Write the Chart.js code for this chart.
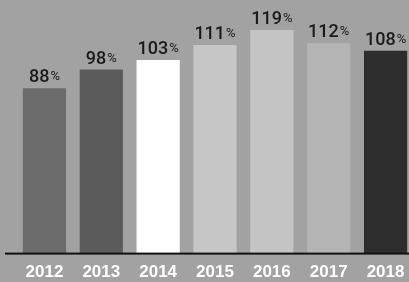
<!DOCTYPE html>
<html>
<head>
<meta charset="utf-8">
<script src="https://cdn.jsdelivr.net/npm/chart.js@4"></script>
<style>
  html, body { margin: 0; padding: 0; background: #a2a2a2; overflow: hidden; }
  #wrap { position: relative; width: 414px; height: 292px; }
</style>
</head>
<body>
<div id="wrap"><canvas id="growthChart"></canvas></div>
<script>
// Chart data
const years = ['2012', '2013', '2014', '2015', '2016', '2017', '2018'];
const values = [88, 98, 103, 111, 119, 112, 108];
const barColors = ['#6c6c6c', '#5b5b5b', '#ffffff', '#c6c6c6', '#c4c4c4', '#b4b4b4', '#2d2d2d'];

// Percent labels above each bar, "%" drawn smaller
const valueLabels = {
    id: 'valueLabels',
    afterDatasetsDraw(chart) {
        const ctx = chart.ctx;
        const meta = chart.getDatasetMeta(0);
        ctx.save();
        ctx.fillStyle = '#1a1a1a';
        ctx.textBaseline = 'alphabetic';
        meta.data.forEach((bar, i) => {
            const num = String(values[i]);
            ctx.font = '500 18px Roboto';
            const numW = ctx.measureText(num).width;
            ctx.font = '400 13px Roboto';
            const pctW = ctx.measureText('%').width;
            const left = bar.x - (numW + pctW + 1) / 2;
            const base = bar.y - 6;
            ctx.font = '500 18px Roboto';
            ctx.textAlign = 'left';
            ctx.fillText(num, left, base);
            ctx.font = '400 13px Roboto';
            ctx.fillText('%', left + numW + 1, base - 2);
        });
        ctx.restore();
    }
};

// Black baseline across the bottom of the bars
const baseLine = {
    id: 'baseLine',
    afterDatasetsDraw(chart) {
        const ctx = chart.ctx;
        const y = chart.scales.y.getPixelForValue(0);
        ctx.save();
        ctx.fillStyle = '#111111';
        ctx.fillRect(5, y - 1, chart.width, 2);
        ctx.restore();
    }
};

const ctx = document.getElementById('growthChart').getContext('2d');
new Chart(ctx, {
    type: 'bar',
    data: {
        labels: years,
        datasets: [{
            data: values,
            backgroundColor: barColors,
            borderWidth: 0,
            barPercentage: 0.76,
            categoryPercentage: 1
        }]
    },
    options: {
        responsive: true,
        maintainAspectRatio: false,
        animation: false,
        layout: {
            padding: { left: 16, right: 0, top: 0, bottom: 0 }
        },
        plugins: {
            legend: { display: false },
            tooltip: { enabled: false }
        },
        scales: {
            x: {
                grid: { display: false, drawTicks: false },
                border: { display: false },
                ticks: {
                    color: '#ffffff',
                    padding: 9,
                    font: { family: 'Liberation Sans', size: 17, weight: 'bold' }
                }
            },
            y: {
                display: false,
                min: 0,
                max: 135
            }
        }
    },
    plugins: [valueLabels, baseLine]
});
</script>
</body>
</html>
